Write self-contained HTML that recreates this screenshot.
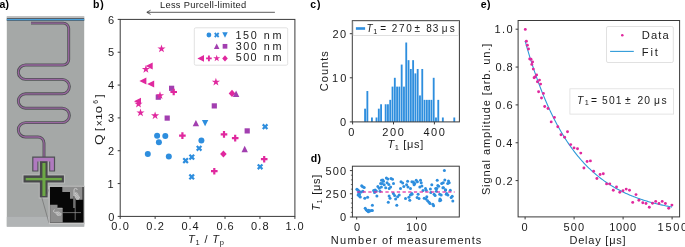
<!DOCTYPE html>
<html><head><meta charset="utf-8"><style>
html,body{margin:0;padding:0;background:#fff;}
body{width:685px;height:247px;overflow:hidden;}
svg{display:block;font-family:"Liberation Sans", sans-serif;will-change:transform;}
</style></head><body>
<svg width="685" height="247" viewBox="0 0 685 247">
<text x="-0.5" y="7.7" font-size="10.5" font-weight="bold" fill="#000" textLength="9.6" lengthAdjust="spacing">a)</text>
<text x="93.06" y="7.7" font-size="10.5" font-weight="bold" fill="#000" textLength="10.65" lengthAdjust="spacing">b)</text>
<text x="310.22" y="8.1" font-size="10.5" font-weight="bold" fill="#000" textLength="10.34" lengthAdjust="spacing">c)</text>
<text x="310.64" y="161.6" font-size="10.5" font-weight="bold" fill="#000" textLength="10.43" lengthAdjust="spacing">d)</text>
<text x="480.7" y="8.1" font-size="10.5" font-weight="bold" fill="#000" textLength="9.86" lengthAdjust="spacing">e)</text>
<g>
<rect x="6.8" y="16.4" width="77.4" height="210.2" fill="#a5a8a7"/>
<rect x="6.8" y="216.9" width="77.4" height="9.7" fill="#b1b4b5"/>
<rect x="6.8" y="16.4" width="77.4" height="1.6" fill="#bdbdbd"/>
<rect x="6.8" y="18" width="77.4" height="3" fill="#58595b"/>
<rect x="6.8" y="18.9" width="77.4" height="1.4" fill="#4aa0da"/>
<path d="M31,23.1 H63.2 A5.5,5.5 0 0 1 68.7,28.6 V59.5 A5.5,5.5 0 0 1 63.2,65 H25.5 A7.200000000000003,7.200000000000003 0 0 0 25.5,79.4 H62.2 A7.199999999999996,7.199999999999996 0 0 1 62.2,93.8 H25.5 A7.200000000000003,7.200000000000003 0 0 0 25.5,108.2 H62.2 A7.199999999999996,7.199999999999996 0 0 1 62.2,122.6 H25.5 A7.200000000000003,7.200000000000003 0 0 0 25.5,137 H38 A6,6 0 0 1 44,143 V157" fill="none" stroke="#4f5154" stroke-width="2.9"/>
<path d="M31,23.1 H63.2 A5.5,5.5 0 0 1 68.7,28.6 V59.5 A5.5,5.5 0 0 1 63.2,65 H25.5 A7.200000000000003,7.200000000000003 0 0 0 25.5,79.4 H62.2 A7.199999999999996,7.199999999999996 0 0 1 62.2,93.8 H25.5 A7.200000000000003,7.200000000000003 0 0 0 25.5,108.2 H62.2 A7.199999999999996,7.199999999999996 0 0 1 62.2,122.6 H25.5 A7.200000000000003,7.200000000000003 0 0 0 25.5,137 H38 A6,6 0 0 1 44,143 V157" fill="none" stroke="#98669f" stroke-width="1.3"/>
<rect x="38.8" y="160.4" width="9.8" height="38.2" fill="#b9bbba"/>
<rect x="22.5" y="174.4" width="42.4" height="9.1" fill="#b9bbba"/>
<path d="M32.2,156.6 H55.1 V171.6 H49.2 V160.6 H38.4 V171.6 H32.2 Z" fill="#4f5154"/>
<path d="M33.4,157.8 H53.9 V170.6 H50.2 V161.4 H37.4 V170.6 H33.4 Z" fill="#b07abf"/>
<rect x="39.8" y="161.2" width="7.8" height="36.2" fill="#48484b"/>
<rect x="23.5" y="175.4" width="40.4" height="7.1" fill="#48484b"/>
<rect x="42.4" y="163" width="3.1" height="33" fill="#6ca845"/>
<rect x="25.7" y="177.9" width="36.1" height="2.4" fill="#6ca845"/>
<line x1="46.5" y1="195.7" x2="49.1" y2="189" stroke="#666" stroke-width="0.6"/>
<line x1="41.7" y1="197.2" x2="49.1" y2="223.4" stroke="#666" stroke-width="0.6"/>
<rect x="48.7" y="185.8" width="36" height="38.4" fill="#c6c6c6"/>
<rect x="49.9" y="186.9" width="33.7" height="35.7" fill="#070707"/>
<path d="M62.3,186.9 H82.6 V199.8 H76.5 V196 H73.2 V198.7 H70 V191.9 H62.3 Z" fill="#8e8e8e"/>
<path d="M50.1,204.7 H57.5 V207.9 H62.7 V222.6 H50.1 Z" fill="#8e8e8e"/>
<line x1="57.5" y1="208.2" x2="62.4" y2="208.2" stroke="#c8c8c8" stroke-width="0.7"/>
<line x1="75.2" y1="190" x2="75.2" y2="220" stroke="#9a9a9a" stroke-width="0.7"/>
<line x1="62.4" y1="212.6" x2="81" y2="212.6" stroke="#9a9a9a" stroke-width="0.7"/>
<path d="M74,208 V190 A1.6,1.6 0 0 1 77.2,190" fill="none" stroke="#cfcfcf" stroke-width="0.9"/>
<path d="M74.6,192.6 L77,192.4 L80,197.2 L78.6,199.8 L76.2,199.8 L74.6,196.5 Z" fill="#c9c9c9"/>
<path d="M75,194 L79,198.5 M75.5,196.5 L77.5,199.2 M76,193 L79.5,197" stroke="#8a8a8a" stroke-width="0.5"/>
<path d="M54.3,212.1 L58.5,211.6 L61.7,213.8 L60.8,215.8 L57.5,215.8 Z" fill="#c9c9c9"/>
<path d="M55.5,212.6 L60.5,215.5 M57.5,212 L61.2,214.6" stroke="#8a8a8a" stroke-width="0.5"/>
<path d="M54.6,209.6 A1.6,1.6 0 0 0 54.6,212.6" fill="none" stroke="#d0d0d0" stroke-width="0.8"/>
</g>
<text x="160.0" y="7.6" font-size="9.3" fill="#1a1a1a" textLength="86.19" lengthAdjust="spacing">Less Purcell-limited</text>
<line x1="147" y1="12.3" x2="274.9" y2="12.3" stroke="#333" stroke-width="0.8"/>
<polyline points="150.6,10.2 146.8,12.3 150.6,14.4" fill="none" stroke="#333" stroke-width="0.8"/>
<rect x="120.2" y="19.4" width="174.7" height="197.0" fill="none" stroke="#3a3a3a" stroke-width="1"/>
<line x1="117.7" y1="216.4" x2="120.2" y2="216.4" stroke="#3a3a3a" stroke-width="1"/>
<text x="108.31" y="220.6" font-size="11" fill="#1a1a1a" textLength="8.79" lengthAdjust="spacing">0</text>
<line x1="117.7" y1="183.56666666666666" x2="120.2" y2="183.56666666666666" stroke="#3a3a3a" stroke-width="1"/>
<text x="107.58" y="187.77" font-size="11" fill="#1a1a1a" textLength="12.83" lengthAdjust="spacing">1</text>
<line x1="117.7" y1="150.73333333333335" x2="120.2" y2="150.73333333333335" stroke="#3a3a3a" stroke-width="1"/>
<text x="107.95" y="154.93" font-size="11" fill="#1a1a1a" textLength="10.8" lengthAdjust="spacing">2</text>
<line x1="117.7" y1="117.9" x2="120.2" y2="117.9" stroke="#3a3a3a" stroke-width="1"/>
<text x="107.97" y="122.1" font-size="11" fill="#1a1a1a" textLength="10.94" lengthAdjust="spacing">3</text>
<line x1="117.7" y1="85.06666666666666" x2="120.2" y2="85.06666666666666" stroke="#3a3a3a" stroke-width="1"/>
<text x="108.12" y="89.27" font-size="11" fill="#1a1a1a" textLength="8.43" lengthAdjust="spacing">4</text>
<line x1="117.7" y1="52.23333333333335" x2="120.2" y2="52.23333333333335" stroke="#3a3a3a" stroke-width="1"/>
<text x="107.91" y="56.43" font-size="11" fill="#1a1a1a" textLength="10.16" lengthAdjust="spacing">5</text>
<line x1="117.7" y1="19.400000000000006" x2="120.2" y2="19.400000000000006" stroke="#3a3a3a" stroke-width="1"/>
<text x="107.98" y="23.6" font-size="11" fill="#1a1a1a" textLength="9.9" lengthAdjust="spacing">6</text>
<line x1="120.2" y1="216.4" x2="120.2" y2="218.9" stroke="#3a3a3a" stroke-width="1"/>
<text x="111.34" y="230.0" font-size="11" fill="#1a1a1a" textLength="17.56" lengthAdjust="spacing">0.0</text>
<line x1="155.14" y1="216.4" x2="155.14" y2="218.9" stroke="#3a3a3a" stroke-width="1"/>
<text x="146.26" y="230.0" font-size="11" fill="#1a1a1a" textLength="17.72" lengthAdjust="spacing">0.2</text>
<line x1="190.07999999999998" y1="216.4" x2="190.07999999999998" y2="218.9" stroke="#3a3a3a" stroke-width="1"/>
<text x="181.42" y="230.0" font-size="11" fill="#1a1a1a" textLength="17.17" lengthAdjust="spacing">0.4</text>
<line x1="225.01999999999998" y1="216.4" x2="225.01999999999998" y2="218.9" stroke="#3a3a3a" stroke-width="1"/>
<text x="216.44" y="230.0" font-size="11" fill="#1a1a1a" textLength="17.12" lengthAdjust="spacing">0.6</text>
<line x1="259.96" y1="216.4" x2="259.96" y2="218.9" stroke="#3a3a3a" stroke-width="1"/>
<text x="250.93" y="230.0" font-size="11" fill="#1a1a1a" textLength="17.8" lengthAdjust="spacing">0.8</text>
<line x1="294.9" y1="216.4" x2="294.9" y2="218.9" stroke="#3a3a3a" stroke-width="1"/>
<text x="285.56" y="230.0" font-size="11" fill="#1a1a1a" textLength="17.96" lengthAdjust="spacing">1.0</text>
<text x="187.98" y="243.3" font-size="11" fill="#1a1a1a" textLength="36.0" lengthAdjust="spacing"><tspan font-style="italic">T</tspan><tspan font-size="7.5" dy="2">1</tspan><tspan dy="-2"> / <tspan font-style="italic">T</tspan><tspan font-size="7.5" dy="2">p</tspan><tspan dy="-2"></tspan></tspan></text>
<text font-size="11.3" fill="#1a1a1a" textLength="10.63" lengthAdjust="spacingAndGlyphs" transform="translate(102.7,144.91) rotate(-90)">Q</text>
<text font-size="11" fill="#1a1a1a" textLength="2.54" lengthAdjust="spacing" transform="translate(102.9,130.92) rotate(-90)">[</text>
<text font-size="10" fill="#1a1a1a" textLength="3.56" lengthAdjust="spacing" transform="translate(102.8,126.36) rotate(-90)">×</text>
<text font-size="9.6" fill="#1a1a1a" textLength="14.38" lengthAdjust="spacingAndGlyphs" transform="translate(102.2,120.32) rotate(-90)">10</text>
<text font-size="6.8" fill="#1a1a1a" textLength="5.83" lengthAdjust="spacing" transform="translate(98.4,103.82) rotate(-90)">6</text>
<text font-size="11" fill="#1a1a1a" textLength="0.91" lengthAdjust="spacing" transform="translate(102.9,97.57) rotate(-90)">]</text>
<rect x="194.3" y="27.8" width="93.4" height="37.4" rx="1.5" fill="#fff" fill-opacity="0.85" stroke="#d9d9d9" stroke-width="0.8"/>
<circle cx="208.9" cy="35" r="2.4000000000000004" fill="#2e8ede"/>
<polygon points="218.02,32.36 219.34,33.68 218.02,35.00 219.34,36.32 218.02,37.64 216.70,36.32 215.38,37.64 214.06,36.32 215.38,35.00 214.06,33.68 215.38,32.36 216.70,33.68" fill="#2e8ede"/>
<polygon points="225,37.72 222.28,32.28 227.72,32.28" fill="#2e8ede"/>
<polygon points="216.7,43.58 213.98,49.019999999999996 219.42,49.019999999999996" fill="#a23fb0"/>
<rect x="222.66" y="43.959999999999994" width="4.680000000000001" height="4.680000000000001" fill="#a23fb0"/>
<polygon points="197.375,58.4 204.02499999999998,55.074999999999996 204.02499999999998,61.725" fill="#e0289e"/>
<polygon points="207.97,55.59 209.84,55.59 209.84,57.46 211.71,57.46 211.71,59.34 209.84,59.34 209.84,61.20 207.97,61.20 207.97,59.34 206.09,59.34 206.09,57.46 207.97,57.46" fill="#e0289e"/>
<polygon points="216.70,54.74 217.52,57.27 220.18,57.27 218.03,58.83 218.85,61.36 216.70,59.80 214.55,61.36 215.37,58.83 213.22,57.27 215.88,57.27" fill="#e0289e"/>
<polygon points="225,55.339999999999996 227.805,58.4 225,61.46 222.195,58.4" fill="#e0289e"/>
<text x="235.53" y="38.5" font-size="10.8" fill="#1a1a1a" textLength="21.12" lengthAdjust="spacing">150</text>
<text x="263.63" y="38.5" font-size="10.8" fill="#1a1a1a" textLength="17.96" lengthAdjust="spacing">nm</text>
<text x="235.87" y="49.6" font-size="10.8" fill="#1a1a1a" textLength="20.91" lengthAdjust="spacing">300</text>
<text x="263.63" y="49.6" font-size="10.8" fill="#1a1a1a" textLength="17.96" lengthAdjust="spacing">nm</text>
<text x="235.87" y="60.9" font-size="10.8" fill="#1a1a1a" textLength="20.64" lengthAdjust="spacing">500</text>
<text x="263.63" y="60.9" font-size="10.8" fill="#1a1a1a" textLength="17.96" lengthAdjust="spacing">nm</text>
<circle cx="157.1" cy="135.8" r="3.0" fill="#2e8ede"/>
<circle cx="165.3" cy="136" r="3.0" fill="#2e8ede"/>
<circle cx="158.9" cy="142.2" r="3.0" fill="#2e8ede"/>
<circle cx="147.8" cy="154.1" r="3.0" fill="#2e8ede"/>
<circle cx="168.8" cy="156.6" r="3.0" fill="#2e8ede"/>
<circle cx="201.4" cy="140.6" r="3.0" fill="#2e8ede"/>
<polygon points="187.16,157.49 188.71,159.04 187.16,160.60 188.71,162.16 187.16,163.71 185.60,162.16 184.04,163.71 182.49,162.16 184.04,160.60 182.49,159.04 184.04,157.49 185.60,159.04" fill="#2e8ede"/>
<polygon points="193.36,153.99 194.91,155.54 193.36,157.10 194.91,158.66 193.36,160.21 191.80,158.66 190.24,160.21 188.69,158.66 190.24,157.10 188.69,155.54 190.24,153.99 191.80,155.54" fill="#2e8ede"/>
<polygon points="200.66,145.19 202.21,146.74 200.66,148.30 202.21,149.86 200.66,151.41 199.10,149.86 197.54,151.41 195.99,149.86 197.54,148.30 195.99,146.74 197.54,145.19 199.10,146.74" fill="#2e8ede"/>
<polygon points="193.26,173.79 194.81,175.34 193.26,176.90 194.81,178.46 193.26,180.01 191.70,178.46 190.14,180.01 188.59,178.46 190.14,176.90 188.59,175.34 190.14,173.79 191.70,175.34" fill="#2e8ede"/>
<polygon points="266.66,123.59 268.21,125.14 266.66,126.70 268.21,128.26 266.66,129.81 265.10,128.26 263.54,129.81 261.99,128.26 263.54,126.70 261.99,125.14 263.54,123.59 265.10,125.14" fill="#2e8ede"/>
<polygon points="261.66,163.69 263.21,165.24 261.66,166.80 263.21,168.36 261.66,169.91 260.10,168.36 258.54,169.91 256.99,168.36 258.54,166.80 256.99,165.24 258.54,163.69 260.10,165.24" fill="#2e8ede"/>
<polygon points="205.1,126.3 201.9,119.89999999999999 208.29999999999998,119.89999999999999" fill="#2e8ede"/>
<polygon points="195.9,119.89999999999999 192.70000000000002,126.3 199.1,126.3" fill="#a23fb0"/>
<polygon points="244.7,145.8 241.5,152.2 247.89999999999998,152.2" fill="#a23fb0"/>
<rect x="169.0" y="85.7" width="5.2" height="5.2" fill="#a23fb0"/>
<rect x="155.70000000000002" y="94.60000000000001" width="5.2" height="5.2" fill="#a23fb0"/>
<rect x="164.6" y="115.5" width="5.2" height="5.2" fill="#a23fb0"/>
<rect x="211.70000000000002" y="103.30000000000001" width="5.2" height="5.2" fill="#a23fb0"/>
<rect x="244.6" y="128.3" width="5.2" height="5.2" fill="#a23fb0"/>
<polygon points="145.7,65.9 152.7,62.400000000000006 152.7,69.4" fill="#e0289e"/>
<polygon points="139.4,81 146.4,77.5 146.4,84.5" fill="#e0289e"/>
<polygon points="147.2,84 154.2,80.5 154.2,87.5" fill="#e0289e"/>
<polygon points="134.0,101.3 141.0,97.8 141.0,104.8" fill="#e0289e"/>
<polygon points="172.60,88.70 174.80,88.70 174.80,90.90 177.00,90.90 177.00,93.10 174.80,93.10 174.80,95.30 172.60,95.30 172.60,93.10 170.40,93.10 170.40,90.90 172.60,90.90" fill="#e0289e"/>
<polygon points="181.30,132.30 183.50,132.30 183.50,134.50 185.70,134.50 185.70,136.70 183.50,136.70 183.50,138.90 181.30,138.90 181.30,136.70 179.10,136.70 179.10,134.50 181.30,134.50" fill="#e0289e"/>
<polygon points="222.90,131.10 225.10,131.10 225.10,133.30 227.30,133.30 227.30,135.50 225.10,135.50 225.10,137.70 222.90,137.70 222.90,135.50 220.70,135.50 220.70,133.30 222.90,133.30" fill="#e0289e"/>
<polygon points="234.10,134.80 236.30,134.80 236.30,137.00 238.50,137.00 238.50,139.20 236.30,139.20 236.30,141.40 234.10,141.40 234.10,139.20 231.90,139.20 231.90,137.00 234.10,137.00" fill="#e0289e"/>
<polygon points="213.20,167.90 215.40,167.90 215.40,170.10 217.60,170.10 217.60,172.30 215.40,172.30 215.40,174.50 213.20,174.50 213.20,172.30 211.00,172.30 211.00,170.10 213.20,170.10" fill="#e0289e"/>
<polygon points="263.10,155.90 265.30,155.90 265.30,158.10 267.50,158.10 267.50,160.30 265.30,160.30 265.30,162.50 263.10,162.50 263.10,160.30 260.90,160.30 260.90,158.10 263.10,158.10" fill="#e0289e"/>
<polygon points="161.50,44.50 162.47,47.47 165.59,47.47 163.06,49.31 164.03,52.28 161.50,50.44 158.97,52.28 159.94,49.31 157.41,47.47 160.53,47.47" fill="#e0289e"/>
<polygon points="145.90,65.00 146.87,67.97 149.99,67.97 147.46,69.81 148.43,72.78 145.90,70.94 143.37,72.78 144.34,69.81 141.81,67.97 144.93,67.97" fill="#e0289e"/>
<polygon points="160.00,91.30 160.97,94.27 164.09,94.27 161.56,96.11 162.53,99.08 160.00,97.24 157.47,99.08 158.44,96.11 155.91,94.27 159.03,94.27" fill="#e0289e"/>
<polygon points="138.50,99.70 139.47,102.67 142.59,102.67 140.06,104.51 141.03,107.48 138.50,105.64 135.97,107.48 136.94,104.51 134.41,102.67 137.53,102.67" fill="#e0289e"/>
<polygon points="140.50,108.50 141.47,111.47 144.59,111.47 142.06,113.31 143.03,116.28 140.50,114.44 137.97,116.28 138.94,113.31 136.41,111.47 139.53,111.47" fill="#e0289e"/>
<polygon points="155.10,111.40 156.07,114.37 159.19,114.37 156.66,116.21 157.63,119.18 155.10,117.34 152.57,119.18 153.54,116.21 151.01,114.37 154.13,114.37" fill="#e0289e"/>
<polygon points="215.90,77.80 216.87,80.77 219.99,80.77 217.46,82.61 218.43,85.58 215.90,83.74 213.37,85.58 214.34,82.61 211.81,80.77 214.93,80.77" fill="#e0289e"/>
<polygon points="232,89.80000000000001 235.3,93.4 232,97.0 228.7,93.4" fill="#e0289e"/>
<polygon points="236.1,90.6 232.9,97.0 239.29999999999998,97.0" fill="#a23fb0"/>
<polygon points="223.4,150.4 226.70000000000002,154 223.4,157.6 220.1,154" fill="#e0289e"/>
<rect x="364.15" y="108.67" width="1.84" height="13.23" fill="#2e8ede"/>
<rect x="366.44" y="91.03" width="1.84" height="30.87" fill="#2e8ede"/>
<rect x="371.01" y="117.49" width="1.84" height="4.41" fill="#2e8ede"/>
<rect x="375.59" y="117.49" width="1.84" height="4.41" fill="#2e8ede"/>
<rect x="377.88" y="108.67" width="1.84" height="13.23" fill="#2e8ede"/>
<rect x="380.16" y="104.26" width="1.84" height="17.64" fill="#2e8ede"/>
<rect x="384.74" y="104.26" width="1.84" height="17.64" fill="#2e8ede"/>
<rect x="387.02" y="104.26" width="1.84" height="17.64" fill="#2e8ede"/>
<rect x="389.31" y="99.85" width="1.84" height="22.05" fill="#2e8ede"/>
<rect x="391.60" y="86.62" width="1.84" height="35.28" fill="#2e8ede"/>
<rect x="393.89" y="77.80" width="1.84" height="44.10" fill="#2e8ede"/>
<rect x="396.17" y="86.62" width="1.84" height="35.28" fill="#2e8ede"/>
<rect x="398.46" y="86.62" width="1.84" height="35.28" fill="#2e8ede"/>
<rect x="400.75" y="64.57" width="1.84" height="57.33" fill="#2e8ede"/>
<rect x="403.04" y="86.62" width="1.84" height="35.28" fill="#2e8ede"/>
<rect x="405.32" y="42.52" width="1.84" height="79.38" fill="#2e8ede"/>
<rect x="407.61" y="60.16" width="1.84" height="61.74" fill="#2e8ede"/>
<rect x="409.90" y="68.98" width="1.84" height="52.92" fill="#2e8ede"/>
<rect x="412.19" y="60.16" width="1.84" height="61.74" fill="#2e8ede"/>
<rect x="414.47" y="73.39" width="1.84" height="48.51" fill="#2e8ede"/>
<rect x="416.76" y="68.98" width="1.84" height="52.92" fill="#2e8ede"/>
<rect x="419.05" y="95.44" width="1.84" height="26.46" fill="#2e8ede"/>
<rect x="421.34" y="68.98" width="1.84" height="52.92" fill="#2e8ede"/>
<rect x="423.62" y="99.85" width="1.84" height="22.05" fill="#2e8ede"/>
<rect x="425.91" y="99.85" width="1.84" height="22.05" fill="#2e8ede"/>
<rect x="428.20" y="99.85" width="1.84" height="22.05" fill="#2e8ede"/>
<rect x="430.49" y="99.85" width="1.84" height="22.05" fill="#2e8ede"/>
<rect x="432.77" y="77.80" width="1.84" height="44.10" fill="#2e8ede"/>
<rect x="435.06" y="117.49" width="1.84" height="4.41" fill="#2e8ede"/>
<rect x="437.35" y="99.85" width="1.84" height="22.05" fill="#2e8ede"/>
<rect x="441.92" y="117.49" width="1.84" height="4.41" fill="#2e8ede"/>
<rect x="453.36" y="117.49" width="1.84" height="4.41" fill="#2e8ede"/>
<rect x="352.3" y="20.7" width="107.09999999999997" height="101.2" fill="none" stroke="#3a3a3a" stroke-width="1"/>
<line x1="349.8" y1="121.9" x2="352.3" y2="121.9" stroke="#3a3a3a" stroke-width="1"/>
<line x1="349.8" y1="77.80000000000001" x2="352.3" y2="77.80000000000001" stroke="#3a3a3a" stroke-width="1"/>
<line x1="349.8" y1="33.7" x2="352.3" y2="33.7" stroke="#3a3a3a" stroke-width="1"/>
<line x1="352.6" y1="121.9" x2="352.6" y2="124.4" stroke="#3a3a3a" stroke-width="1"/>
<line x1="393.5" y1="121.9" x2="393.5" y2="124.4" stroke="#3a3a3a" stroke-width="1"/>
<line x1="434.40000000000003" y1="121.9" x2="434.40000000000003" y2="124.4" stroke="#3a3a3a" stroke-width="1"/>
<text x="339.88" y="126.3" font-size="11" fill="#1a1a1a" textLength="7.21" lengthAdjust="spacing">0</text>
<text x="331.9" y="82.0" font-size="11" fill="#1a1a1a" textLength="14.35" lengthAdjust="spacing">10</text>
<text x="332.42" y="37.9" font-size="11" fill="#1a1a1a" textLength="13.82" lengthAdjust="spacing">20</text>
<text x="348.23" y="135.6" font-size="11" fill="#1a1a1a" textLength="10.97" lengthAdjust="spacing">0</text>
<text x="382.28" y="135.6" font-size="11" fill="#1a1a1a" textLength="21.51" lengthAdjust="spacing">200</text>
<text x="423.53" y="135.6" font-size="11" fill="#1a1a1a" textLength="21.26" lengthAdjust="spacing">400</text>
<text x="387.45" y="148.4" font-size="11" fill="#1a1a1a" textLength="35.81" lengthAdjust="spacing"><tspan font-style="italic">T</tspan><tspan font-size="7.5" dy="2">1</tspan><tspan dy="-2"> [μs]</tspan></text>
<text font-size="11" fill="#1a1a1a" textLength="40.11" lengthAdjust="spacing" transform="translate(328.1,91.24) rotate(-90)">Counts</text>
<rect x="353.2" y="21.6" width="105.2" height="13.8" fill="#fff" stroke="#d9d9d9" stroke-width="0.8"/>
<rect x="355.9" y="27.2" width="9.2" height="2.6" fill="#2e8ede"/>
<text x="366.42" y="32.0" font-size="10.0" font-style="italic" fill="#1a1a1a" textLength="6.77" lengthAdjust="spacing">T</text>
<text x="373.31" y="33.8" font-size="7.3" fill="#1a1a1a" textLength="5.47" lengthAdjust="spacing">1</text>
<text x="380.35" y="32.0" font-size="10.0" fill="#1a1a1a" textLength="6.03" lengthAdjust="spacing">=</text>
<text x="391.71" y="32.0" font-size="10.0" fill="#1a1a1a" textLength="20.17" lengthAdjust="spacing">270</text>
<text x="414.54" y="32.0" font-size="10.0" fill="#1a1a1a" textLength="7.59" lengthAdjust="spacing">±</text>
<text x="426.16" y="32.0" font-size="10.0" fill="#1a1a1a" textLength="12.17" lengthAdjust="spacing">83</text>
<text x="441.86" y="32.0" font-size="10.0" fill="#1a1a1a" textLength="12.81" lengthAdjust="spacing">μs</text>
<rect x="352.4" y="166.2" width="106.90000000000003" height="50.80000000000001" fill="none" stroke="#3a3a3a" stroke-width="1"/>
<line x1="349.9" y1="217.0" x2="352.4" y2="217.0" stroke="#3a3a3a" stroke-width="1"/>
<line x1="349.9" y1="193.8" x2="352.4" y2="193.8" stroke="#3a3a3a" stroke-width="1"/>
<line x1="349.9" y1="170.6" x2="352.4" y2="170.6" stroke="#3a3a3a" stroke-width="1"/>
<line x1="350.9" y1="212.36" x2="352.4" y2="212.36" stroke="#3a3a3a" stroke-width="0.7"/>
<line x1="350.9" y1="207.72" x2="352.4" y2="207.72" stroke="#3a3a3a" stroke-width="0.7"/>
<line x1="350.9" y1="203.08" x2="352.4" y2="203.08" stroke="#3a3a3a" stroke-width="0.7"/>
<line x1="350.9" y1="198.44" x2="352.4" y2="198.44" stroke="#3a3a3a" stroke-width="0.7"/>
<line x1="350.9" y1="189.16" x2="352.4" y2="189.16" stroke="#3a3a3a" stroke-width="0.7"/>
<line x1="350.9" y1="184.52" x2="352.4" y2="184.52" stroke="#3a3a3a" stroke-width="0.7"/>
<line x1="350.9" y1="179.88" x2="352.4" y2="179.88" stroke="#3a3a3a" stroke-width="0.7"/>
<line x1="350.9" y1="175.24" x2="352.4" y2="175.24" stroke="#3a3a3a" stroke-width="0.7"/>
<line x1="356.7" y1="217.0" x2="356.7" y2="219.5" stroke="#3a3a3a" stroke-width="1"/>
<line x1="416.5" y1="217.0" x2="416.5" y2="219.5" stroke="#3a3a3a" stroke-width="1"/>
<text x="325.59" y="174.8" font-size="11" fill="#1a1a1a" textLength="20.58" lengthAdjust="spacing">500</text>
<text x="325.57" y="197.5" font-size="11" fill="#1a1a1a" textLength="20.68" lengthAdjust="spacing">250</text>
<text x="340.1" y="221.3" font-size="11" fill="#1a1a1a" textLength="5.42" lengthAdjust="spacing">0</text>
<text x="353.88" y="230.6" font-size="11" fill="#1a1a1a" textLength="6.21" lengthAdjust="spacing">0</text>
<text x="405.89" y="230.6" font-size="11" fill="#1a1a1a" textLength="21.01" lengthAdjust="spacing">100</text>
<text x="330.67" y="244.1" font-size="11" fill="#1a1a1a" textLength="45.9" lengthAdjust="spacing">Number</text>
<text x="381.93" y="244.1" font-size="11" fill="#1a1a1a" textLength="99.34" lengthAdjust="spacing">of measurements</text>
<text font-size="11" fill="#1a1a1a" textLength="36.22" lengthAdjust="spacing" transform="translate(320.0,210.82) rotate(-90)"><tspan font-style="italic">T</tspan><tspan font-size="7.5" dy="2">1</tspan><tspan dy="-2"> [μs]</tspan></text>
<circle cx="356.9" cy="189.2" r="1.5" fill="#2e8ede"/>
<circle cx="357.8" cy="190" r="1.5" fill="#2e8ede"/>
<circle cx="359" cy="190.9" r="1.5" fill="#2e8ede"/>
<circle cx="358.7" cy="193.1" r="1.5" fill="#2e8ede"/>
<circle cx="359.5" cy="194.3" r="1.5" fill="#2e8ede"/>
<circle cx="358.1" cy="194.9" r="1.5" fill="#2e8ede"/>
<circle cx="359.3" cy="196.1" r="1.5" fill="#2e8ede"/>
<circle cx="360.3" cy="197" r="1.5" fill="#2e8ede"/>
<circle cx="361.7" cy="185.8" r="1.5" fill="#2e8ede"/>
<circle cx="362.7" cy="186.8" r="1.5" fill="#2e8ede"/>
<circle cx="364.2" cy="187.4" r="1.5" fill="#2e8ede"/>
<circle cx="362.9" cy="191.3" r="1.5" fill="#2e8ede"/>
<circle cx="361.1" cy="191.9" r="1.5" fill="#2e8ede"/>
<circle cx="364.8" cy="198.2" r="1.5" fill="#2e8ede"/>
<circle cx="367.6" cy="197.3" r="1.5" fill="#2e8ede"/>
<circle cx="373.6" cy="190.4" r="1.5" fill="#2e8ede"/>
<circle cx="375.1" cy="190" r="1.5" fill="#2e8ede"/>
<circle cx="376.3" cy="190.9" r="1.5" fill="#2e8ede"/>
<circle cx="374.5" cy="192.5" r="1.5" fill="#2e8ede"/>
<circle cx="376.9" cy="195.9" r="1.5" fill="#2e8ede"/>
<circle cx="377.9" cy="186.4" r="1.5" fill="#2e8ede"/>
<circle cx="379.3" cy="188.2" r="1.5" fill="#2e8ede"/>
<circle cx="380.6" cy="183.4" r="1.5" fill="#2e8ede"/>
<circle cx="381.5" cy="180.3" r="1.5" fill="#2e8ede"/>
<circle cx="380" cy="191.3" r="1.5" fill="#2e8ede"/>
<circle cx="372.4" cy="205.3" r="1.5" fill="#2e8ede"/>
<circle cx="365.2" cy="208.2" r="1.5" fill="#2e8ede"/>
<circle cx="366.2" cy="209.7" r="1.5" fill="#2e8ede"/>
<circle cx="367.2" cy="210.7" r="1.5" fill="#2e8ede"/>
<circle cx="368.4" cy="211.7" r="1.5" fill="#2e8ede"/>
<circle cx="369.7" cy="211" r="1.5" fill="#2e8ede"/>
<circle cx="371.2" cy="210.4" r="1.5" fill="#2e8ede"/>
<circle cx="372.4" cy="210.4" r="1.5" fill="#2e8ede"/>
<circle cx="368.7" cy="210.2" r="1.5" fill="#2e8ede"/>
<circle cx="382.8" cy="179.9" r="1.5" fill="#2e8ede"/>
<circle cx="383.5" cy="181.3" r="1.5" fill="#2e8ede"/>
<circle cx="386.4" cy="178" r="1.5" fill="#2e8ede"/>
<circle cx="387.8" cy="178.9" r="1.5" fill="#2e8ede"/>
<circle cx="391" cy="178.5" r="1.5" fill="#2e8ede"/>
<circle cx="392.5" cy="179.2" r="1.5" fill="#2e8ede"/>
<circle cx="382.1" cy="183.4" r="1.5" fill="#2e8ede"/>
<circle cx="384.2" cy="184.8" r="1.5" fill="#2e8ede"/>
<circle cx="387.1" cy="182.7" r="1.5" fill="#2e8ede"/>
<circle cx="388.8" cy="184.5" r="1.5" fill="#2e8ede"/>
<circle cx="381.4" cy="187" r="1.5" fill="#2e8ede"/>
<circle cx="385.7" cy="187.7" r="1.5" fill="#2e8ede"/>
<circle cx="389.2" cy="188.4" r="1.5" fill="#2e8ede"/>
<circle cx="393.5" cy="183.4" r="1.5" fill="#2e8ede"/>
<circle cx="390.6" cy="187" r="1.5" fill="#2e8ede"/>
<circle cx="401" cy="181.7" r="1.5" fill="#2e8ede"/>
<circle cx="402.7" cy="183.1" r="1.5" fill="#2e8ede"/>
<circle cx="403.8" cy="186.5" r="1.5" fill="#2e8ede"/>
<circle cx="400.5" cy="188.4" r="1.5" fill="#2e8ede"/>
<circle cx="406.6" cy="184.8" r="1.5" fill="#2e8ede"/>
<circle cx="407.6" cy="181.3" r="1.5" fill="#2e8ede"/>
<circle cx="408" cy="187" r="1.5" fill="#2e8ede"/>
<circle cx="410.5" cy="188.4" r="1.5" fill="#2e8ede"/>
<circle cx="411.9" cy="181.7" r="1.5" fill="#2e8ede"/>
<circle cx="414" cy="183.4" r="1.5" fill="#2e8ede"/>
<circle cx="389.1" cy="196.1" r="1.5" fill="#2e8ede"/>
<circle cx="390" cy="198.3" r="1.5" fill="#2e8ede"/>
<circle cx="388.3" cy="202.2" r="1.5" fill="#2e8ede"/>
<circle cx="393.4" cy="193.6" r="1.5" fill="#2e8ede"/>
<circle cx="394.6" cy="195.5" r="1.5" fill="#2e8ede"/>
<circle cx="395.6" cy="199.1" r="1.5" fill="#2e8ede"/>
<circle cx="397.6" cy="196.7" r="1.5" fill="#2e8ede"/>
<circle cx="399.2" cy="194.9" r="1.5" fill="#2e8ede"/>
<circle cx="396.8" cy="205.2" r="1.5" fill="#2e8ede"/>
<circle cx="405.5" cy="198.5" r="1.5" fill="#2e8ede"/>
<circle cx="408.9" cy="197.3" r="1.5" fill="#2e8ede"/>
<circle cx="409.8" cy="200.3" r="1.5" fill="#2e8ede"/>
<circle cx="410.4" cy="194.9" r="1.5" fill="#2e8ede"/>
<circle cx="411.8" cy="193.4" r="1.5" fill="#2e8ede"/>
<circle cx="444.4" cy="170.4" r="1.5" fill="#2e8ede"/>
<circle cx="413.4" cy="182" r="1.5" fill="#2e8ede"/>
<circle cx="414.8" cy="183.4" r="1.5" fill="#2e8ede"/>
<circle cx="416.2" cy="180.3" r="1.5" fill="#2e8ede"/>
<circle cx="417.4" cy="181.7" r="1.5" fill="#2e8ede"/>
<circle cx="414.1" cy="184.8" r="1.5" fill="#2e8ede"/>
<circle cx="420.5" cy="180.3" r="1.5" fill="#2e8ede"/>
<circle cx="421.2" cy="182.7" r="1.5" fill="#2e8ede"/>
<circle cx="419.8" cy="187" r="1.5" fill="#2e8ede"/>
<circle cx="421.9" cy="186" r="1.5" fill="#2e8ede"/>
<circle cx="423" cy="190.5" r="1.5" fill="#2e8ede"/>
<circle cx="425.5" cy="188.4" r="1.5" fill="#2e8ede"/>
<circle cx="426.2" cy="190.2" r="1.5" fill="#2e8ede"/>
<circle cx="430.4" cy="189.1" r="1.5" fill="#2e8ede"/>
<circle cx="431.8" cy="184.8" r="1.5" fill="#2e8ede"/>
<circle cx="437.2" cy="180.3" r="1.5" fill="#2e8ede"/>
<circle cx="438.6" cy="186.2" r="1.5" fill="#2e8ede"/>
<circle cx="436.8" cy="188.4" r="1.5" fill="#2e8ede"/>
<circle cx="441.7" cy="183.4" r="1.5" fill="#2e8ede"/>
<circle cx="443.2" cy="182.7" r="1.5" fill="#2e8ede"/>
<circle cx="444.8" cy="180.1" r="1.5" fill="#2e8ede"/>
<circle cx="442.9" cy="187.7" r="1.5" fill="#2e8ede"/>
<circle cx="418.1" cy="194.3" r="1.5" fill="#2e8ede"/>
<circle cx="417.1" cy="197.5" r="1.5" fill="#2e8ede"/>
<circle cx="419" cy="198.5" r="1.5" fill="#2e8ede"/>
<circle cx="424.2" cy="198.3" r="1.5" fill="#2e8ede"/>
<circle cx="426" cy="199.1" r="1.5" fill="#2e8ede"/>
<circle cx="426.8" cy="196.7" r="1.5" fill="#2e8ede"/>
<circle cx="427.6" cy="200.7" r="1.5" fill="#2e8ede"/>
<circle cx="429" cy="202.2" r="1.5" fill="#2e8ede"/>
<circle cx="430" cy="203.6" r="1.5" fill="#2e8ede"/>
<circle cx="432.9" cy="204.3" r="1.5" fill="#2e8ede"/>
<circle cx="433.6" cy="205.8" r="1.5" fill="#2e8ede"/>
<circle cx="434.1" cy="194.3" r="1.5" fill="#2e8ede"/>
<circle cx="435.1" cy="195.5" r="1.5" fill="#2e8ede"/>
<circle cx="439.7" cy="194.3" r="1.5" fill="#2e8ede"/>
<circle cx="441.2" cy="194.9" r="1.5" fill="#2e8ede"/>
<circle cx="439.7" cy="200.7" r="1.5" fill="#2e8ede"/>
<circle cx="440.2" cy="199.7" r="1.5" fill="#2e8ede"/>
<circle cx="446.3" cy="194.3" r="1.5" fill="#2e8ede"/>
<circle cx="412" cy="194.3" r="1.5" fill="#2e8ede"/>
<circle cx="430.8" cy="192.4" r="1.5" fill="#2e8ede"/>
<circle cx="448.5" cy="180.9" r="1.5" fill="#2e8ede"/>
<circle cx="449.2" cy="182.7" r="1.5" fill="#2e8ede"/>
<circle cx="447.7" cy="183.4" r="1.5" fill="#2e8ede"/>
<circle cx="437.8" cy="185.5" r="1.5" fill="#2e8ede"/>
<circle cx="443.5" cy="187.7" r="1.5" fill="#2e8ede"/>
<circle cx="435.7" cy="188.4" r="1.5" fill="#2e8ede"/>
<circle cx="445.6" cy="189.8" r="1.5" fill="#2e8ede"/>
<circle cx="450.3" cy="190.2" r="1.5" fill="#2e8ede"/>
<circle cx="436.4" cy="191.2" r="1.5" fill="#2e8ede"/>
<circle cx="445.5" cy="190.2" r="1.5" fill="#2e8ede"/>
<circle cx="446.7" cy="193.5" r="1.5" fill="#2e8ede"/>
<circle cx="447.9" cy="195" r="1.5" fill="#2e8ede"/>
<circle cx="452.2" cy="196.3" r="1.5" fill="#2e8ede"/>
<circle cx="451.2" cy="197.5" r="1.5" fill="#2e8ede"/>
<circle cx="452.8" cy="201.1" r="1.5" fill="#2e8ede"/>
<circle cx="440.6" cy="200.2" r="1.5" fill="#2e8ede"/>
<circle cx="440" cy="199" r="1.5" fill="#2e8ede"/>
<line x1="356.9" y1="192" x2="454.6" y2="192" stroke="#e0289e" stroke-width="1.4" stroke-dasharray="3.3,2.4" opacity="0.8"/>
<rect x="518.1" y="20.5" width="161.5" height="196.4" fill="none" stroke="#3a3a3a" stroke-width="1"/>
<line x1="515.6" y1="180.6" x2="518.1" y2="180.6" stroke="#3a3a3a" stroke-width="1"/>
<text x="495.23" y="184.7" font-size="11" fill="#1a1a1a" textLength="17.46" lengthAdjust="spacing">0.2</text>
<line x1="515.6" y1="142.75" x2="518.1" y2="142.75" stroke="#3a3a3a" stroke-width="1"/>
<text x="495.39" y="146.85" font-size="11" fill="#1a1a1a" textLength="17.02" lengthAdjust="spacing">0.4</text>
<line x1="515.6" y1="104.89999999999999" x2="518.1" y2="104.89999999999999" stroke="#3a3a3a" stroke-width="1"/>
<text x="495.33" y="109.0" font-size="11" fill="#1a1a1a" textLength="17.2" lengthAdjust="spacing">0.6</text>
<line x1="515.6" y1="67.04999999999998" x2="518.1" y2="67.04999999999998" stroke="#3a3a3a" stroke-width="1"/>
<text x="495.45" y="71.15" font-size="11" fill="#1a1a1a" textLength="17.27" lengthAdjust="spacing">0.8</text>
<line x1="515.6" y1="29.19999999999999" x2="518.1" y2="29.19999999999999" stroke="#3a3a3a" stroke-width="1"/>
<text x="494.56" y="33.3" font-size="11" fill="#1a1a1a" textLength="17.98" lengthAdjust="spacing">1.0</text>
<line x1="525.1" y1="216.9" x2="525.1" y2="219.4" stroke="#3a3a3a" stroke-width="1"/>
<line x1="574.1" y1="216.9" x2="574.1" y2="219.4" stroke="#3a3a3a" stroke-width="1"/>
<line x1="623.1" y1="216.9" x2="623.1" y2="219.4" stroke="#3a3a3a" stroke-width="1"/>
<line x1="672.1" y1="216.9" x2="672.1" y2="219.4" stroke="#3a3a3a" stroke-width="1"/>
<text x="521.44" y="231.0" font-size="11" fill="#1a1a1a" textLength="11.18" lengthAdjust="spacing">0</text>
<text x="563.38" y="231.0" font-size="11" fill="#1a1a1a" textLength="20.83" lengthAdjust="spacing">500</text>
<text x="609.18" y="231.0" font-size="11" fill="#1a1a1a" textLength="26.84" lengthAdjust="spacing">1000</text>
<text x="657.55" y="231.0" font-size="11" fill="#1a1a1a" textLength="29.65" lengthAdjust="spacing">1500</text>
<text x="569.48" y="243.7" font-size="11" fill="#1a1a1a" textLength="56.1" lengthAdjust="spacing">Delay [μs]</text>
<text font-size="11" fill="#1a1a1a" textLength="151.52" lengthAdjust="spacing" transform="translate(489.6,195.11) rotate(-90)">Signal amplitude [arb. un.]</text>
<polyline points="525.10,40.93 526.08,44.39 527.06,47.78 528.04,51.10 529.02,54.35 530.00,57.54 530.98,60.67 531.96,63.74 532.94,66.74 533.92,69.69 534.90,72.57 535.88,75.40 536.86,78.18 537.84,80.90 538.82,83.56 539.80,86.18 540.78,88.74 541.76,91.25 542.74,93.71 543.72,96.12 544.70,98.49 545.68,100.81 546.66,103.08 547.64,105.31 548.62,107.49 549.60,109.63 550.58,111.73 551.56,113.79 552.54,115.80 553.52,117.78 554.50,119.72 555.48,121.62 556.46,123.48 557.44,125.30 558.42,127.09 559.40,128.84 560.38,130.56 561.36,132.25 562.34,133.90 563.32,135.52 564.30,137.10 565.28,138.66 566.26,140.18 567.24,141.68 568.22,143.14 569.20,144.58 570.18,145.98 571.16,147.36 572.14,148.72 573.12,150.04 574.10,151.34 575.08,152.62 576.06,153.86 577.04,155.09 578.02,156.29 579.00,157.46 579.98,158.62 580.96,159.75 581.94,160.86 582.92,161.94 583.90,163.01 584.88,164.05 585.86,165.07 586.84,166.07 587.82,167.06 588.80,168.02 589.78,168.96 590.76,169.89 591.74,170.80 592.72,171.69 593.70,172.56 594.68,173.41 595.66,174.25 596.64,175.07 597.62,175.88 598.60,176.67 599.58,177.44 600.56,178.20 601.54,178.94 602.52,179.67 603.50,180.38 604.48,181.08 605.46,181.77 606.44,182.44 607.42,183.10 608.40,183.75 609.38,184.38 610.36,185.00 611.34,185.61 612.32,186.21 613.30,186.79 614.28,187.36 615.26,187.93 616.24,188.48 617.22,189.02 618.20,189.55 619.18,190.07 620.16,190.57 621.14,191.07 622.12,191.56 623.10,192.04 624.08,192.51 625.06,192.97 626.04,193.42 627.02,193.86 628.00,194.30 628.98,194.72 629.96,195.14 630.94,195.55 631.92,195.95 632.90,196.34 633.88,196.72 634.86,197.10 635.84,197.47 636.82,197.83 637.80,198.19 638.78,198.54 639.76,198.88 640.74,199.21 641.72,199.54 642.70,199.86 643.68,200.18 644.66,200.48 645.64,200.79 646.62,201.08 647.60,201.37 648.58,201.66 649.56,201.94 650.54,202.21 651.52,202.48 652.50,202.74 653.48,203.00 654.46,203.26 655.44,203.50 656.42,203.75 657.40,203.98 658.38,204.22 659.36,204.45 660.34,204.67 661.32,204.89 662.30,205.11 663.28,205.32 664.26,205.53 665.24,205.73 666.22,205.93 667.20,206.12 668.18,206.31 669.16,206.50 670.14,206.69 671.12,206.87 672.10,207.04" fill="none" stroke="#2e9ad8" stroke-width="1.1"/>
<circle cx="525.3" cy="29.4" r="1.45" fill="#e0289e"/>
<circle cx="526.4" cy="41.2" r="1.45" fill="#e0289e"/>
<circle cx="527.4" cy="45.2" r="1.45" fill="#e0289e"/>
<circle cx="528.5" cy="49" r="1.45" fill="#e0289e"/>
<circle cx="529.7" cy="59" r="1.45" fill="#e0289e"/>
<circle cx="531" cy="59.3" r="1.45" fill="#e0289e"/>
<circle cx="532.6" cy="61.9" r="1.45" fill="#e0289e"/>
<circle cx="531.8" cy="64.4" r="1.45" fill="#e0289e"/>
<circle cx="533.3" cy="69.1" r="1.45" fill="#e0289e"/>
<circle cx="536.6" cy="74.9" r="1.45" fill="#e0289e"/>
<circle cx="535" cy="76.9" r="1.45" fill="#e0289e"/>
<circle cx="534.1" cy="77.7" r="1.45" fill="#e0289e"/>
<circle cx="539.5" cy="80.1" r="1.45" fill="#e0289e"/>
<circle cx="537.4" cy="81.7" r="1.45" fill="#e0289e"/>
<circle cx="540.6" cy="84.1" r="1.45" fill="#e0289e"/>
<circle cx="538.6" cy="91.8" r="1.45" fill="#e0289e"/>
<circle cx="543.4" cy="93.4" r="1.45" fill="#e0289e"/>
<circle cx="541.5" cy="98" r="1.45" fill="#e0289e"/>
<circle cx="544.7" cy="106.5" r="1.45" fill="#e0289e"/>
<circle cx="548" cy="108.5" r="1.45" fill="#e0289e"/>
<circle cx="554.4" cy="117.4" r="1.45" fill="#e0289e"/>
<circle cx="551.2" cy="121.9" r="1.45" fill="#e0289e"/>
<circle cx="557.8" cy="126.7" r="1.45" fill="#e0289e"/>
<circle cx="567.5" cy="131.7" r="1.45" fill="#e0289e"/>
<circle cx="561" cy="134.8" r="1.45" fill="#e0289e"/>
<circle cx="564.6" cy="137.2" r="1.45" fill="#e0289e"/>
<circle cx="570.7" cy="144.6" r="1.45" fill="#e0289e"/>
<circle cx="574" cy="147.9" r="1.45" fill="#e0289e"/>
<circle cx="577.5" cy="148.7" r="1.45" fill="#e0289e"/>
<circle cx="580.8" cy="153.1" r="1.45" fill="#e0289e"/>
<circle cx="587.1" cy="161.5" r="1.45" fill="#e0289e"/>
<circle cx="590.4" cy="160.9" r="1.45" fill="#e0289e"/>
<circle cx="583.9" cy="168" r="1.45" fill="#e0289e"/>
<circle cx="593.6" cy="171.2" r="1.45" fill="#e0289e"/>
<circle cx="600.1" cy="174.5" r="1.45" fill="#e0289e"/>
<circle cx="603.3" cy="173.8" r="1.45" fill="#e0289e"/>
<circle cx="596.9" cy="178.5" r="1.45" fill="#e0289e"/>
<circle cx="606.6" cy="183.9" r="1.45" fill="#e0289e"/>
<circle cx="609.8" cy="183.9" r="1.45" fill="#e0289e"/>
<circle cx="616.5" cy="187" r="1.45" fill="#e0289e"/>
<circle cx="613.3" cy="190.2" r="1.45" fill="#e0289e"/>
<circle cx="619.8" cy="192.2" r="1.45" fill="#e0289e"/>
<circle cx="623" cy="190.7" r="1.45" fill="#e0289e"/>
<circle cx="626.2" cy="189.1" r="1.45" fill="#e0289e"/>
<circle cx="629.5" cy="190.2" r="1.45" fill="#e0289e"/>
<circle cx="636" cy="194.6" r="1.45" fill="#e0289e"/>
<circle cx="632.7" cy="202.4" r="1.45" fill="#e0289e"/>
<circle cx="638.9" cy="200.3" r="1.45" fill="#e0289e"/>
<circle cx="642.8" cy="202.7" r="1.45" fill="#e0289e"/>
<circle cx="646" cy="203.5" r="1.45" fill="#e0289e"/>
<circle cx="649.3" cy="207.2" r="1.45" fill="#e0289e"/>
<circle cx="652.5" cy="203.2" r="1.45" fill="#e0289e"/>
<circle cx="655.7" cy="201.4" r="1.45" fill="#e0289e"/>
<circle cx="659" cy="203.5" r="1.45" fill="#e0289e"/>
<circle cx="662.2" cy="201.4" r="1.45" fill="#e0289e"/>
<circle cx="665.4" cy="203.5" r="1.45" fill="#e0289e"/>
<circle cx="668.7" cy="208.3" r="1.45" fill="#e0289e"/>
<circle cx="671.9" cy="205.1" r="1.45" fill="#e0289e"/>
<rect x="606.5" y="26.5" width="66.8" height="36" rx="1.5" fill="#fff" stroke="#d9d9d9" stroke-width="0.8"/>
<circle cx="622.3" cy="35.2" r="1.3" fill="#e0289e"/>
<line x1="610.1" y1="51.4" x2="633.8" y2="51.4" stroke="#2e9ad8" stroke-width="1.1"/>
<text x="641.82" y="39.3" font-size="11.2" fill="#1a1a1a" textLength="26.93" lengthAdjust="spacing">Data</text>
<text x="641.82" y="55.7" font-size="11.2" fill="#1a1a1a" textLength="16.01" lengthAdjust="spacing">Fit</text>
<rect x="569.9" y="88.8" width="103.7" height="25.3" fill="#fff" stroke="#dedede" stroke-width="0.8"/>
<text x="577.1" y="103.6" font-size="10.3" font-style="italic" fill="#1a1a1a" textLength="14.38" lengthAdjust="spacing">T</text>
<text x="584.64" y="105.3" font-size="7.3" fill="#1a1a1a" textLength="4.72" lengthAdjust="spacing">1</text>
<text x="591.08" y="103.6" font-size="10.3" fill="#1a1a1a" textLength="9.49" lengthAdjust="spacing">=</text>
<text x="602.07" y="103.6" font-size="10.3" fill="#1a1a1a" textLength="19.43" lengthAdjust="spacing">501</text>
<text x="625.12" y="103.6" font-size="10.3" fill="#1a1a1a" textLength="9.48" lengthAdjust="spacing">±</text>
<text x="637.4" y="103.6" font-size="10.3" fill="#1a1a1a" textLength="12.67" lengthAdjust="spacing">20</text>
<text x="653.88" y="103.6" font-size="10.3" fill="#1a1a1a" textLength="12.82" lengthAdjust="spacing">μs</text>
</svg>
</body></html>
